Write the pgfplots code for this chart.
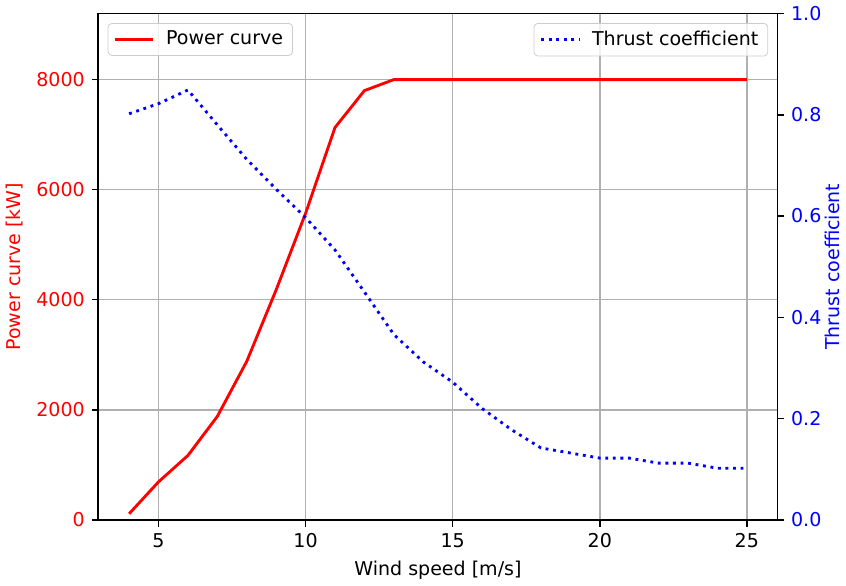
\documentclass[border=0pt]{standalone}
\usepackage{fontspec}
\setmainfont{DejaVu Sans}
\usepackage{pgfplots}
\pgfplotsset{compat=1.18}
\definecolor{mplgrid}{HTML}{B0B0B0}
\begin{document}
\begin{tikzpicture}
\pgfplotsset{
  every axis/.append style={
    width=357pt, height=266pt, scale only axis,
    xmin=2.95, xmax=26.05,
    tick align=outside,
    major tick length=3.5pt,
    major tick style={black, line width=0.8pt},
    axis line style={line width=0.8pt},
    /pgf/number format/assume math mode=true,
    legend cell align=left,
    legend image code/.code={\draw[#1] (0pt,0pt) -- (20pt,0pt); \path (24pt,0pt);},
  },
}
\begin{axis}[
  ymin=0, ymax=9200,
  xtick={5,10,15,20,25},
  ytick={0,2000,4000,6000,8000},
  xtick pos=bottom, ytick pos=left,
  grid=major, grid style={mplgrid, line width=0.8pt},
  scaled y ticks=false,
  yticklabel style={red, /pgf/number format/1000 sep={}},
  xlabel={Wind speed [m/s]},
  ylabel={Power curve [kW]},
  ylabel style={red},
  legend style={at={(0,1)}, anchor=north west, xshift=5pt, yshift=-5pt,
    draw=black!20, rounded corners=2pt, fill=white, fill opacity=0.8, text opacity=1},
]
\addplot[red, line width=1.5pt] coordinates {
(4,110) (5,690) (6,1170) (7,1880) (8,2880) (9,4180) (10,5570) (11,7130) (12,7800)
(13,8000) (14,8000) (15,8000) (16,8000) (17,8000) (18,8000) (19,8000) (20,8000)
(21,8000) (22,8000) (23,8000) (24,8000) (25,8000)};
\addlegendentry{Power curve}
\end{axis}
\begin{axis}[
  ymin=0, ymax=1,
  axis x line=none,
  axis y line*=right,
  ytick={0,0.2,0.4,0.6,0.8,1.0},
  yticklabel style={blue, /pgf/number format/.cd, fixed, fixed zerofill, precision=1},
  ylabel={Thrust coefficient},
  ylabel style={blue},
  ylabel shift=-5pt,
  legend style={at={(1,1)}, anchor=north east, xshift=-5pt, yshift=-5pt,
    draw=black!20, rounded corners=2pt, fill=white, fill opacity=0.8, text opacity=1},
]
\addplot[blue, line width=1.5pt, dash pattern=on 1.5pt off 2.475pt] coordinates {
(4,0.802) (5,0.822) (6,0.849) (7,0.780) (8,0.712) (9,0.653) (10,0.597) (11,0.533)
(12,0.450) (13,0.366) (14,0.312) (15,0.272) (16,0.220) (17,0.178) (18,0.142)
(19,0.132) (20,0.122) (21,0.122) (22,0.112) (23,0.112) (24,0.102) (25,0.102)};
\addlegendentry{Thrust coefficient}
\end{axis}
\end{tikzpicture}
\end{document}
